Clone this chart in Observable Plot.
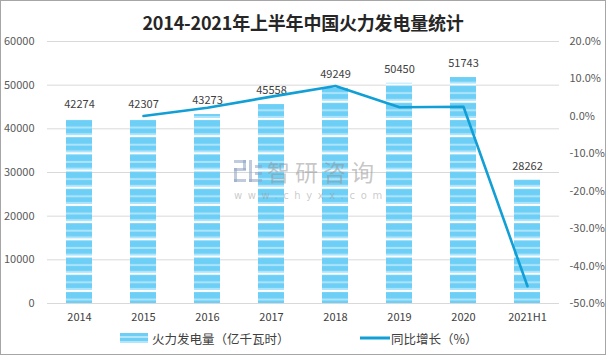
<!DOCTYPE html>
<html><head><meta charset="utf-8">
<script src="https://cdn.jsdelivr.net/npm/d3@7"></script>
<script src="https://cdn.jsdelivr.net/npm/@observablehq/plot@0.6"></script>
<style>
html,body{margin:0;padding:0;background:#fff;}
#frame{position:relative;width:604px;height:353px;border:1px solid #a6a6a6;overflow:hidden;font-family:"Noto Sans CJK SC","Microsoft YaHei",sans-serif;}
#title{position:absolute;left:0;top:8px;width:604px;text-align:center;font-size:18px;font-weight:bold;color:#262626;line-height:26px;letter-spacing:-0.2px;}
#chart{position:absolute;left:0;top:30px;}
.wm{position:absolute;pointer-events:none;white-space:nowrap;}
#wm1{left:266px;top:153px;font-size:23px;line-height:normal;letter-spacing:5px;color:rgba(150,150,150,0.55);}
#wm2{left:233px;top:188.5px;font-size:10px;line-height:normal;letter-spacing:5.6px;font-family:"DejaVu Sans",sans-serif;color:rgba(150,150,150,0.5);}
#logo{left:233px;top:159px;}
#legend{position:absolute;top:327px;left:0;width:604px;height:20px;font-size:12.5px;color:#404040;}
.li{position:absolute;top:0;display:flex;align-items:center;height:20px;}
</style></head>
<body>
<div id="frame">
  <div id="title">2014-2021年上半年中国火力发电量统计</div>
  <div id="chart"></div>
  <svg id="logo" class="wm" width="28" height="22" viewBox="0 0 28 22">
    <g fill="rgba(140,160,195,0.55)">
      <rect x="0" y="0" width="12" height="3"/><rect x="9" y="0" width="3" height="10"/>
      <rect x="0" y="8" width="12" height="3"/><rect x="0" y="8" width="3" height="14"/>
      <rect x="0" y="19" width="12" height="3"/>
      <rect x="15" y="0" width="3" height="22"/><rect x="15" y="19" width="13" height="3"/>
      <rect x="21" y="5" width="7" height="3"/><rect x="21" y="12" width="7" height="3"/>
    </g>
  </svg>
  <div id="wm1" class="wm">智研咨询</div>
  <div id="wm2" class="wm">www.chyxx.com</div>
  <div id="legend">
    <div class="li" style="left:119px"><svg width="28" height="10" style="margin-right:4px"><rect x="0" y="0" width="28" height="10" fill="#6dcff6"/><rect x="0" y="3" width="28" height="2" fill="#b3e6fb"/><rect x="0" y="8" width="28" height="2" fill="#b3e6fb"/></svg><span>火力发电量（亿千瓦时）</span></div>
    <div class="li" style="left:359px"><svg width="30" height="10" style="margin-right:1px"><line x1="0" x2="30" y1="5" y2="5" stroke="#129fd6" stroke-width="3"/></svg><span>同比增长（%）</span></div>
  </div>
</div>
<script>
const years = ["2014","2015","2016","2017","2018","2019","2020","2021H1"];
const output = [42274,42307,43273,45558,49249,50450,51743,28262];
const growthYears = ["2015","2016","2017","2018","2019","2020","2021H1"];
const growth = [0.08,2.28,5.28,8.10,2.44,2.57,-45.38];
const leftTicks = [0,10000,20000,30000,40000,50000,60000];
const rightTicks = [20,10,0,-10,-20,-30,-40,-50];

// map right-axis percentage into left-axis units (both share the same pixel range)
const pctToLeft = d3.scaleLinear().domain([-50,20]).range([0,60000]);

const bars = years.map((y,i)=>({year:y, value:output[i]}));
const line = growthYears.map((y,i)=>({year:y, v:pctToLeft(growth[i])}));

const chart = Plot.plot({
  width:604, height:300,
  marginLeft:46, marginRight:46, marginTop:10, marginBottom:28,
  style:{fontFamily:'"Noto Sans CJK SC","Microsoft YaHei",sans-serif', fontSize:"11px", color:"#595959", background:"transparent"},
  x:{domain:years, paddingInner:0.59, paddingOuter:0.295, label:null},
  y:{domain:[0,60000], label:null},
  marks:[
    Plot.gridY(leftTicks, {stroke:"#d9d9d9", strokeOpacity:1}),
    Plot.barY(bars, {x:"year", y:"value", fill:"url(#stripes)"}),
    Plot.text(bars, {x:"year", y:"value", text:d=>String(d.value), dy:-14, fill:"#404040", fontSize:11}),
    Plot.lineY(line, {x:"year", y:"v", stroke:"#129fd6", strokeWidth:2.6}),
    Plot.axisY(leftTicks, {anchor:"left", tickSize:0, tickPadding:13, tickFormat:d=>String(d), fill:"#595959"}),
    Plot.axisY(rightTicks.map(p=>pctToLeft(p)), {anchor:"right", tickSize:0, tickPadding:10,
      tickFormat:(d)=>pctToLeft.invert(d).toFixed(1)+"%", fill:"#595959"}),
    Plot.axisX({tickSize:0, tickPadding:10, fill:"#404040", fontSize:11})
  ]
});

const svg = d3.select(chart);
const defs = svg.insert("defs", ":first-child");
const pat = defs.append("pattern").attr("id","stripes").attr("patternUnits","userSpaceOnUse")
  .attr("x",0).attr("y",1).attr("width",8).attr("height",17.2);
pat.append("rect").attr("x",0).attr("y",0).attr("width",8).attr("height",17.2).attr("fill","#6dcff6");
pat.append("rect").attr("x",0).attr("y",0).attr("width",8).attr("height",2).attr("fill","#ffffff");
pat.append("rect").attr("x",0).attr("y",8.5).attr("width",8).attr("height",2).attr("fill","#aee4fb");
pat.append("rect").attr("x",0).attr("y",15.2).attr("width",8).attr("height",2).attr("fill","#aee4fb");

document.getElementById("chart").appendChild(chart);
</script>
</body></html>
